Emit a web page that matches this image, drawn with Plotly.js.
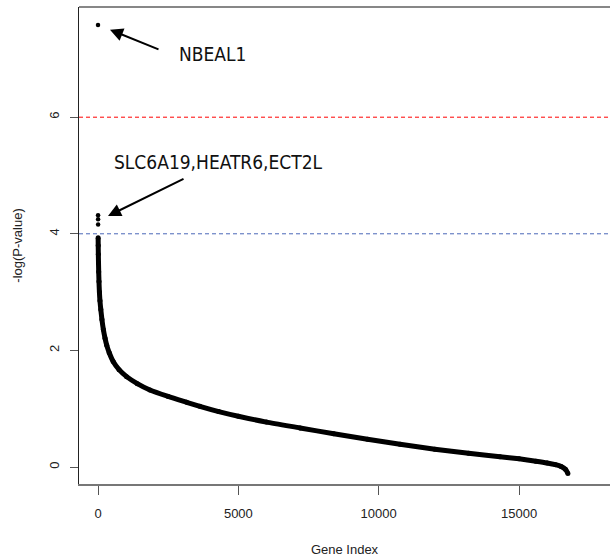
<!DOCTYPE html>
<html>
<head>
<meta charset="utf-8">
<script src="https://cdn.plot.ly/plotly-3.0.1.min.js"></script>
<style>html,body{margin:0;padding:0;background:#fff;}#chart{width:610px;height:559px;}</style>
</head>
<body>
<div id="chart"></div>
<script>
// Top hits (isolated points)
const topIndex = [1, 2, 3, 4];
const topValue = [7.58, 4.32, 4.25, 4.16];
// Sorted -log(P) curve
const curveIndex = [5, 8, 12, 18, 25, 35, 50, 70, 100, 140, 190, 250, 310, 400, 540, 750, 1020, 1400, 1850, 2500, 3160, 3630, 4300, 5000, 6000, 7200, 8400, 9600, 10760, 12000, 13200, 14320, 15000, 15600, 16000, 16300, 16500, 16650, 16740];
const curveValue = [3.93, 3.80, 3.65, 3.50, 3.35, 3.18, 3.00, 2.85, 2.70, 2.53, 2.36, 2.21, 2.09, 1.96, 1.81, 1.67, 1.55, 1.43, 1.32, 1.21, 1.11, 1.04, 0.95, 0.87, 0.77, 0.67, 0.57, 0.475, 0.39, 0.305, 0.235, 0.175, 0.14, 0.10, 0.07, 0.04, 0.01, -0.04, -0.11];
const xTicks = [0, 5000, 10000, 15000];
const yTicks = [0, 2, 4, 6];
const redLine = 6;
const blueLine = 4;
const labelTop = "NBEAL1";
const labelMid = "SLC6A19,HEATR6,ECT2L";

const traces = [
  {x: curveIndex, y: curveValue, mode: 'lines+markers', type: 'scatter',
   line: {color: '#000', width: 5, shape: 'spline', smoothing: 0.6}, marker: {color: '#000', size: 5}, hoverinfo: 'skip'},
  {x: topIndex, y: topValue, mode: 'markers', type: 'scatter',
   marker: {color: '#000', size: 4.5}, hoverinfo: 'skip'}
];

const layout = {
  width: 610, height: 559,
  margin: {l: 79, r: 0, t: 7, b: 75},
  paper_bgcolor: '#fff', plot_bgcolor: '#fff',
  showlegend: false,
  font: {family: 'Liberation Sans, Arial, sans-serif', color: '#222', size: 13},
  xaxis: {
    range: [-677, 18240], tickvals: xTicks, ticktext: xTicks.map(String),
    showgrid: false, zeroline: false, showline: true, linecolor: '#777', linewidth: 1.5,
    ticks: 'outside', ticklen: 9, tickcolor: '#555', tickwidth: 1,
    ticklabelstandoff: 8,
    title: {text: 'Gene Index', font: {size: 13}, standoff: 25}
  },
  yaxis: {
    range: [-0.2916, 7.890], tickvals: yTicks, ticktext: yTicks.map(String),
    showgrid: false, zeroline: false, showline: true, linecolor: '#222', linewidth: 1,
    ticks: 'outside', ticklen: 8, tickcolor: '#555', tickwidth: 1,
    tickangle: -90, ticklabelstandoff: 6,
    title: {text: '-log(P-value)', font: {size: 13}, standoff: 21}
  },
  shapes: [
    {type: 'line', xref: 'paper', yref: 'paper', x0: 0, x1: 1, y0: 1, y1: 1, line: {color: '#111', width: 1.2}},
    {type: 'line', xref: 'paper', yref: 'y', x0: 0, x1: 1, y0: redLine, y1: redLine, line: {color: '#ff0000', width: 1, dash: '4px,3px'}},
    {type: 'line', xref: 'paper', yref: 'y', x0: 0, x1: 1, y0: blueLine, y1: blueLine, line: {color: '#4a68b8', width: 1, dash: '4px,3px'}}
  ],
  annotations: [
    {x: 427, y: 7.50, ax: 2280, ay: 7.14, axref: 'x', ayref: 'y', xref: 'x', yref: 'y',
     text: ' ', showarrow: true, arrowhead: 2, arrowsize: 1.3, arrowwidth: 2, arrowcolor: '#000', standoff: 0},
    {x: 356, y: 4.305, ax: 3171, ay: 4.97, axref: 'x', ayref: 'y', xref: 'x', yref: 'y',
     text: ' ', showarrow: true, arrowhead: 2, arrowsize: 1.3, arrowwidth: 2, arrowcolor: '#000', standoff: 0},
    {x: 2814, y: 7.08, xref: 'x', yref: 'y', text: labelTop, showarrow: false,
     xanchor: 'left', yanchor: 'middle', font: {family: 'DejaVu Sans Condensed, DejaVu Sans', size: 19, color: '#111'}},
    {x: 499, y: 5.23, xref: 'x', yref: 'y', text: labelMid, showarrow: false,
     xanchor: 'left', yanchor: 'middle', font: {family: 'DejaVu Sans Condensed, DejaVu Sans', size: 19, color: '#111'}}
  ]
};

Plotly.newPlot('chart', traces, layout, {displayModeBar: false, staticPlot: true});
</script>
</body>
</html>
